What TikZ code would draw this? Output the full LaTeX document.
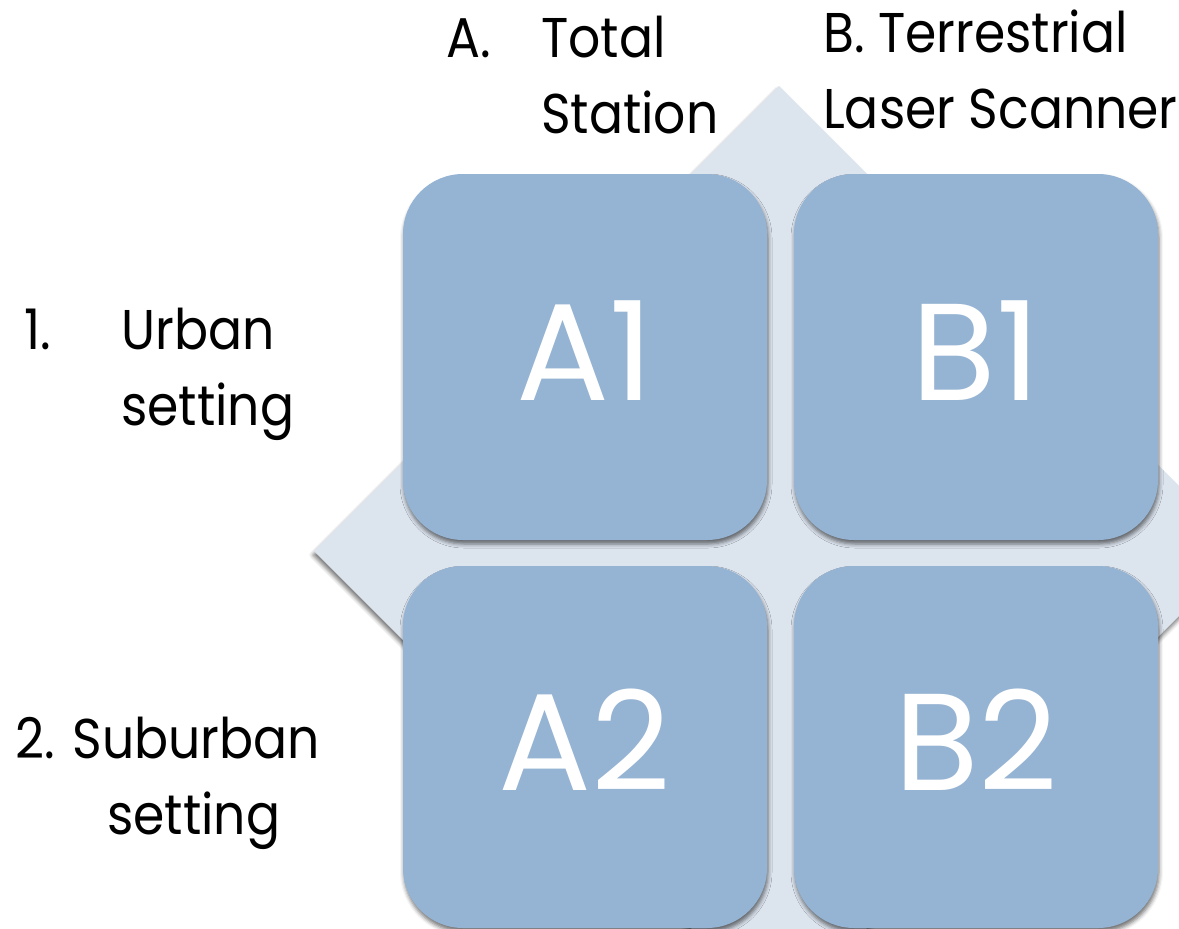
\documentclass[tikz,border=0pt]{standalone}
\usepackage{fontspec}
\setmainfont{Poppins}
\newfontfamily\labfont[FakeStretch=0.9]{Poppins}
\usetikzlibrary{shadows.blur}
\definecolor{boxblue}{RGB}{149,179,211}
\definecolor{diamondgrey}{RGB}{220,228,238}
\begin{document}
\begin{tikzpicture}[x=1pt,y=-1pt,
  tile/.style={fill=boxblue, draw=none, rounded corners=60pt, inner sep=0pt,
    minimum width=364pt, text=white, font=\fontsize{138}{138}\selectfont,
    text height=104pt, text depth=18pt,
    blur shadow={shadow xshift=1pt, shadow yshift=-4pt, shadow blur radius=4pt, shadow opacity=55}},
  lab/.style={anchor=base west, inner sep=0pt, font=\labfont\fontsize{56}{60}\selectfont}]
\useasboundingbox (0,0) rectangle (1179,929);
\clip (0,0) rectangle (1179,929);
% background diamond
\path[fill=diamondgrey, blur shadow={shadow xshift=-1pt, shadow yshift=-4pt, shadow blur radius=4pt, shadow opacity=55}]
  (779,86) -- (1244,551) -- (779,1016) -- (314,551) -- cycle;
% tiles
\node[tile, minimum height=366pt] (A1) at (585,357) {A1};
\node[tile, minimum height=366pt] (B1) at (976,357) {B1};
\node[tile, minimum height=362pt] (A2) at (585,747) {A2};
\node[tile, minimum height=362pt] (B2) at (976,747) {B2};
% column labels
\node[lab] (la) at (446,57) {A.};
\node[lab] (lat) at (541,57) {Total};
\node[lab] (las) at (541,133) {Station};
\node[lab] (lb) at (823,52) {B. Terrestrial};
\node[lab] (lbs) at (823,128) {Laser Scanner};
% row labels
\node[lab] (l1) at (24,349) {1.};
\node[lab] (l1u) at (121,349) {Urban};
\node[lab] (l1s) at (121,425) {setting};
\node[lab] (l2) at (15,758) {2. Suburban};
\node[lab] (l2s) at (107,834) {setting};
\end{tikzpicture}
\end{document}
